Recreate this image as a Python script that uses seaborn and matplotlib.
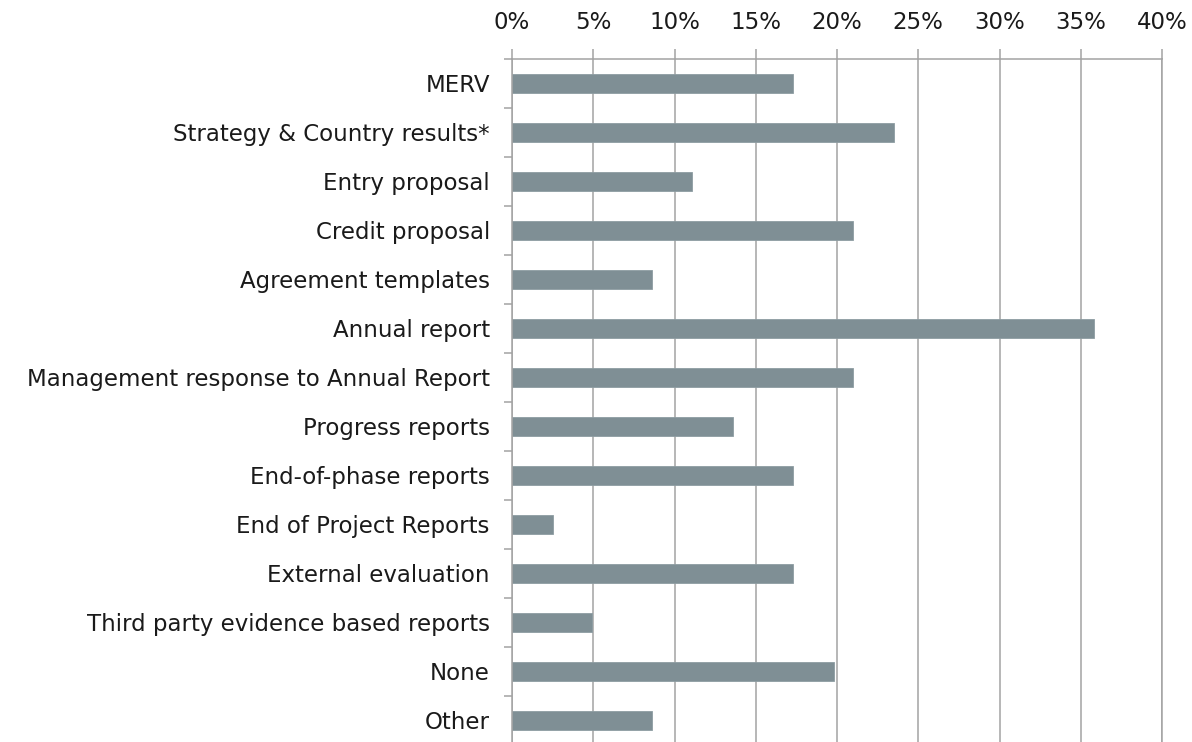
import numpy as np
import pandas as pd
import matplotlib.pyplot as plt
import seaborn as sns
from matplotlib.ticker import PercentFormatter, FixedLocator

categories = [
    "MERV",
    "Strategy & Country results*",
    "Entry proposal",
    "Credit proposal",
    "Agreement templates",
    "Annual report",
    "Management response to Annual Report",
    "Progress reports",
    "End-of-phase reports",
    "End of Project Reports",
    "External evaluation",
    "Third party evidence based reports",
    "None",
    "Other",
]
shares = [17.3, 23.5, 11.1, 21.0, 8.6, 35.8, 21.0, 13.6, 17.3, 2.5, 17.3, 4.9, 19.8, 8.6]

df = pd.DataFrame({"category": categories, "share": shares})

sns.set_style("white")
plt.rcParams["font.family"] = ["DejaVu Sans"]

fig = plt.figure(figsize=(11.92, 7.42), dpi=100)
ax = fig.add_axes([512 / 1192, -0.004, 650 / 1192, 0.9205 + 0.004])

grid_col = "#a3a3a3"
sns.barplot(data=df, y="category", x="share", orient="h", color="#7f8f95",
            width=0.40, edgecolor="#8d9da2", linewidth=0.6, saturation=1, ax=ax)

ax.set_xlim(0, 40)
ax.set_ylim(len(categories) - 0.5, -0.5)
ax.set_xticks(np.arange(0, 41, 5))
ax.xaxis.set_major_formatter(PercentFormatter(decimals=0))
ax.xaxis.tick_top()
ax.tick_params(axis="x", which="major", length=7, width=1.1, color=grid_col,
               pad=11, labelsize=16.5, labelcolor="#1a1a1a")

ax.tick_params(axis="y", which="major", length=0, pad=16, labelsize=16.5, labelcolor="#1a1a1a")
ax.yaxis.set_minor_locator(FixedLocator(np.arange(-0.5, len(categories), 1.0)))
ax.tick_params(axis="y", which="minor", length=6, width=1.1, color=grid_col, left=True)

ax.grid(axis="x", color=grid_col, linewidth=1.1)
ax.set_axisbelow(True)
for side in ["top", "left", "right"]:
    ax.spines[side].set_color(grid_col)
    ax.spines[side].set_linewidth(1.1)
ax.spines["bottom"].set_visible(False)

ax.set_xlabel("")
ax.set_ylabel("")

fig.savefig("out.png", dpi=100)
